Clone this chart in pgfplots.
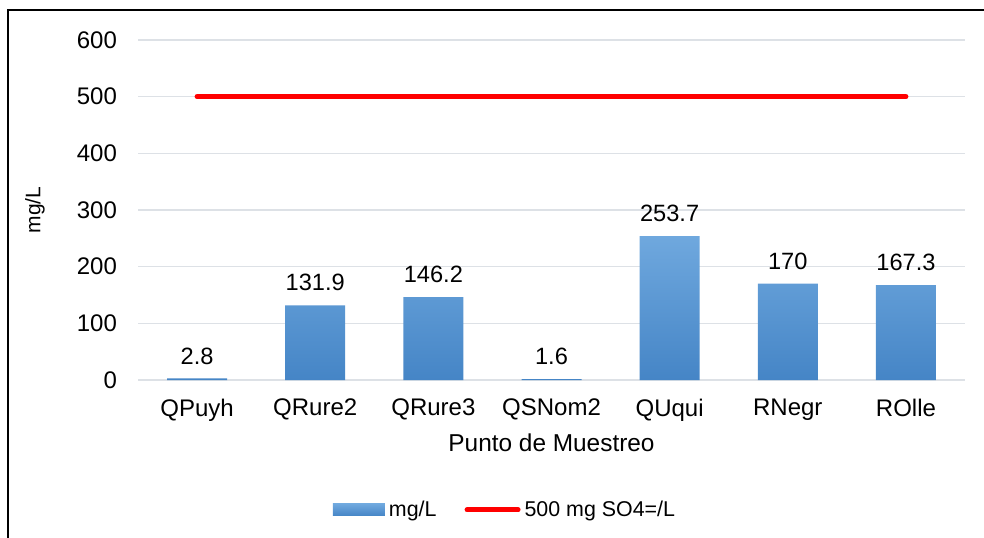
\documentclass[border=0pt]{standalone}
\usepackage{fontspec}
\setmainfont{Liberation Sans}
\usepackage{pgfplots}
\pgfplotsset{compat=1.18}

\definecolor{bartop}{HTML}{6FA8DE}
\definecolor{barbot}{HTML}{4585C6}
\definecolor{gridgray}{HTML}{DDE1E6}
\definecolor{limred}{HTML}{FF0000}

\begin{document}
\begin{tikzpicture}
  % picture frame: 984 x 537 px at 0.5pt per px
  \useasboundingbox (0,0) rectangle (492pt,268.5pt);
  \draw[black, line width=0.7pt] (4pt,-1pt) -- (4pt,263.5pt) -- (493pt,263.5pt);

  \begin{axis}[
      at={(69pt,78.5pt)}, anchor=south west,
      scale only axis,
      width=413.5pt, height=170pt,
      xmin=-0.5, xmax=6.5,
      ymin=0, ymax=600,
      ytick={0,100,200,300,400,500,600},
      xtick=data,
      xticklabels={QPuyh,QRure2,QRure3,QSNom2,QUqui,RNegr,ROlle},
      axis line style={draw=none},
      major tick length=0pt,
      ymajorgrids,
      grid style={gridgray, line width=0.8pt},
      /pgf/number format/assume math mode=true,
      tick label style={font=\fontsize{12}{14}\selectfont, text=black},
      yticklabel style={xshift=-7pt},
      xticklabel style={yshift=-6pt},
      xlabel={Punto de Muestreo},
      xlabel style={at={(axis description cs:0.5,0)}, anchor=center,
                    yshift=-31.5pt, font=\fontsize{12.2}{14}\selectfont},
      ylabel={mg/L},
      ylabel style={at={(axis description cs:0,0.5)}, anchor=center,
                    yshift=51.5pt, font=\fontsize{10.5}{12}\selectfont},
      legend style={at={(axis description cs:0.445,-0.382)}, anchor=center,
                    draw=none, fill=none, legend columns=2,
                    font=\fontsize{10.7}{12}\selectfont,
                    /tikz/every even column/.append style={column sep=12pt}},
      clip=false,
    ]
    \addplot[ybar, bar width=30pt, draw=none,
             shade, top color=bartop, bottom color=barbot,
             nodes near coords,
             every node near coord/.append style={font=\fontsize{11.8}{14}\selectfont,
                                                  text=black, yshift=3.5pt},
             legend image code/.code={
               \fill[shade, top color=bartop, bottom color=barbot]
                 (0pt,-3pt) rectangle (26pt,3pt);}]
      coordinates {(0,2.8) (1,131.9) (2,146.2) (3,1.6) (4,253.7) (5,170) (6,167.3)};
    \addlegendentry{mg/L}
    \addplot[limred, line width=2.5pt, line cap=round, mark=none,
             legend image code/.code={
               \draw[limred, line width=2.5pt, line cap=round] (1.5pt,0pt) -- (27pt,0pt);}]
      coordinates {(0,500) (6,500)};
    \addlegendentry{500 mg SO4=/L}
  \end{axis}
\end{tikzpicture}
\end{document}
